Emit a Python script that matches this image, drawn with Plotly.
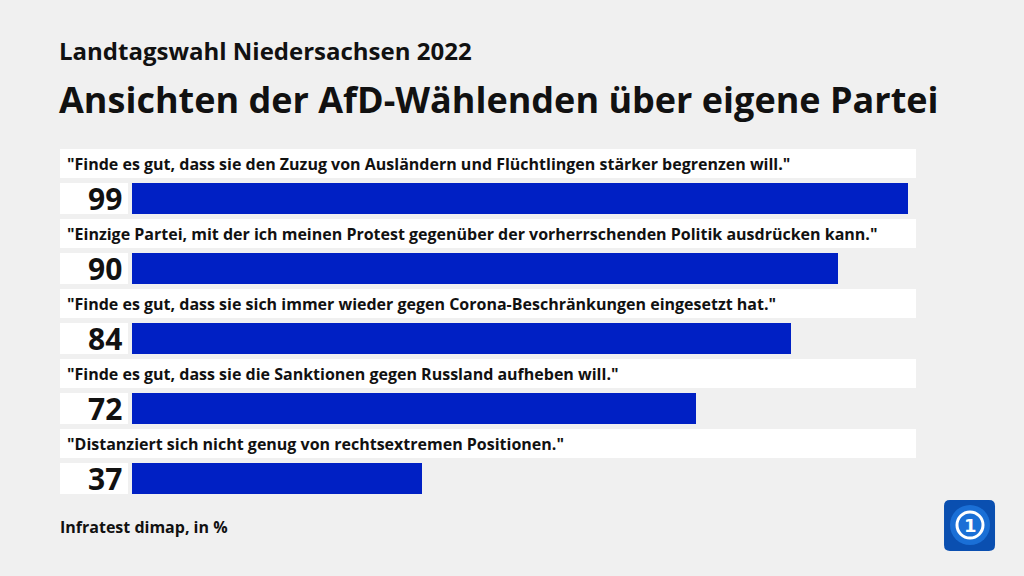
import plotly.graph_objects as go

# data
statements = [
    '"Finde es gut, dass sie den Zuzug von Ausländern und Flüchtlingen stärker begrenzen will."',
    '"Einzige Partei, mit der ich meinen Protest gegenüber der vorherrschenden Politik ausdrücken kann."',
    '"Finde es gut, dass sie sich immer wieder gegen Corona-Beschränkungen eingesetzt hat."',
    '"Finde es gut, dass sie die Sanktionen gegen Russland aufheben will."',
    '"Distanziert sich nicht genug von rechtsextremen Positionen."',
]
values = [99, 90, 84, 72, 37]

BG = "#f0f0f0"
BLUE = "#0020c4"
FONT = "Open Sans"

# px layout helpers
X0_PX = 60      # left edge of white boxes
ZERO_PX = 132   # bar origin
FULL_PX = 916   # value 100
PPU = (FULL_PX - ZERO_PX) / 100.0
x_left = (X0_PX - ZERO_PX) / PPU
x_valbox_end = (128 - ZERO_PX) / PPU

label_rows = [2 * i for i in range(len(values))]
bar_rows = [2 * i + 1 for i in range(len(values))]

fig = go.Figure()

# white boxes behind statements
fig.add_trace(go.Bar(
    y=label_rows, x=[100 - x_left] * len(values), base=x_left,
    orientation="h", width=0.85, marker=dict(color="white", line=dict(width=0)),
    hoverinfo="skip", showlegend=False))
# white boxes behind values
fig.add_trace(go.Bar(
    y=bar_rows, x=[x_valbox_end - x_left] * len(values), base=x_left,
    orientation="h", width=0.88, marker=dict(color="white", line=dict(width=0)),
    hoverinfo="skip", showlegend=False))
# the bars
fig.add_trace(go.Bar(
    y=bar_rows, x=values, base=0, orientation="h", width=0.88,
    marker=dict(color=BLUE, line=dict(width=0)),
    hovertemplate="%{x}<extra></extra>", showlegend=False))

annotations = []
for r, s in zip(label_rows, statements):
    annotations.append(dict(
        x=(65 - ZERO_PX) / PPU, y=r, xref="x", yref="y", text=s,
        showarrow=False, xanchor="left", yanchor="middle",
        font=dict(family=FONT, size=16, color="#111111", weight="bold")))
for r, v in zip(bar_rows, values):
    annotations.append(dict(
        x=(124 - ZERO_PX) / PPU, y=r, xref="x", yref="y", text=str(v),
        showarrow=False, xanchor="right", yanchor="middle",
        font=dict(family=FONT, size=30, color="#111111", weight="bold")))

annotations += [
    dict(x=57 / 1024, y=1 - 51 / 576, xref="paper", yref="paper",
         text="Landtagswahl Niedersachsen 2022", showarrow=False,
         xanchor="left", yanchor="middle",
         font=dict(family=FONT, size=24, color="#111111", weight="bold")),
    dict(x=57 / 1024, y=1 - 99 / 576, xref="paper", yref="paper",
         text="Ansichten der AfD-Wählenden über eigene Partei", showarrow=False,
         xanchor="left", yanchor="middle",
         font=dict(family=FONT, size=36, color="#111111", weight="bold")),
    dict(x=58 / 1024, y=1 - 527 / 576, xref="paper", yref="paper",
         text="Infratest dimap, in %", showarrow=False,
         xanchor="left", yanchor="middle",
         font=dict(family=FONT, size=16, color="#111111", weight="bold")),
    dict(x=970 / 1024, y=1 - 525 / 576, xref="paper", yref="paper",
         text="1", showarrow=False, xanchor="center", yanchor="middle",
         font=dict(family="DejaVu Sans", size=18, color="white", weight="bold")),
]

shapes = [
    dict(type="path", xref="paper", yref="paper", layer="above",
         path=("M 0.9277 0.1319 L 0.9658 0.1319 Q 0.9717 0.1319 0.9717 0.1215 "
               "L 0.9717 0.0538 Q 0.9717 0.0434 0.9658 0.0434 L 0.9277 0.0434 "
               "Q 0.9219 0.0434 0.9219 0.0538 L 0.9219 0.1215 Q 0.9219 0.1319 0.9277 0.1319 Z"),
         fillcolor="#0a4fb0", line=dict(width=0)),
    dict(type="circle", xref="paper", yref="paper", layer="above",
         x0=950 / 1024, x1=990 / 1024, y0=1 - 545 / 576, y1=1 - 505 / 576,
         fillcolor="#1a6fd6", line=dict(width=0)),
    dict(type="circle", xref="paper", yref="paper", layer="above",
         x0=957 / 1024, x1=983 / 1024, y0=1 - 538 / 576, y1=1 - 512 / 576,
         fillcolor="rgba(0,0,0,0)", line=dict(color="white", width=3)),
]

fig.update_layout(
    width=1024, height=576,
    paper_bgcolor=BG, plot_bgcolor=BG,
    margin=dict(l=0, r=0, t=0, b=0),
    barmode="overlay", bargap=0,
    xaxis=dict(range=[x_left, 100], domain=[X0_PX / 1024, FULL_PX / 1024],
               showgrid=False, zeroline=False, showticklabels=False, fixedrange=True),
    yaxis=dict(range=[9.5, -0.5], domain=[(576 - 496) / 576, (576 - 146) / 576],
               showgrid=False, zeroline=False, showticklabels=False, fixedrange=True),
    annotations=annotations, shapes=shapes,
)

fig.write_html("out.html", config={"displayModeBar": False},
               post_script="document.body.style.margin='0';")
